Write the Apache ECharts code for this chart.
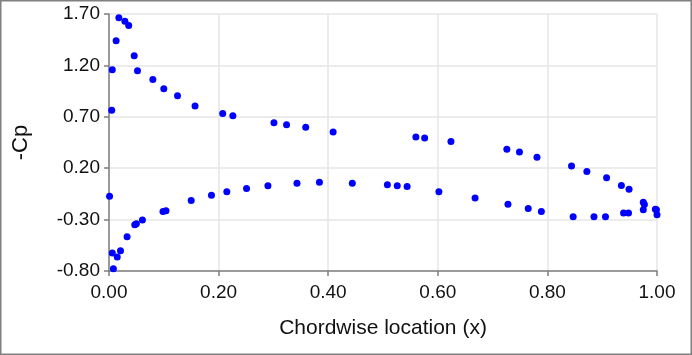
<!DOCTYPE html>
<html>
<head>
<meta charset="utf-8">
<script src="https://cdn.jsdelivr.net/npm/echarts@6/dist/echarts.min.js"></script>
<style>
html,body{margin:0;padding:0;background:#fff;}
#chart{width:692px;height:355px;}
</style>
</head>
<body>
<div id="chart"></div>
<script>
// Upper surface (suction side)
const upperX = [0.005,0.006,0.013,0.018,0.029,0.036,0.046,0.052,0.080,0.100,0.125,0.157,0.2075,0.226,0.301,0.324,0.359,0.409,0.560,0.576,0.624,0.726,0.749,0.781,0.844,0.872,0.908,0.935,0.949,0.975,0.977,0.997];
const upperCp = [0.763,1.157,1.44,1.663,1.63,1.587,1.294,1.147,1.062,0.974,0.905,0.805,0.733,0.71,0.641,0.622,0.599,0.553,0.504,0.494,0.459,0.384,0.358,0.306,0.221,0.169,0.107,0.032,-0.005,-0.132,-0.154,-0.20];
// Lower surface (pressure side)
const lowerX = [0.001,0.008,0.006,0.015,0.021,0.033,0.047,0.050,0.061,0.0985,0.104,0.150,0.187,0.215,0.251,0.290,0.343,0.384,0.444,0.508,0.526,0.544,0.602,0.668,0.728,0.765,0.789,0.847,0.885,0.906,0.939,0.948,0.975,1.000,0.999];
const lowerCp = [-0.073,-0.777,-0.624,-0.663,-0.604,-0.467,-0.35,-0.34,-0.304,-0.22,-0.213,-0.115,-0.063,-0.03,0.003,0.029,0.054,0.064,0.054,0.038,0.029,0.022,-0.030,-0.089,-0.151,-0.193,-0.22,-0.272,-0.272,-0.272,-0.236,-0.236,-0.203,-0.252,-0.205];

const xTicks = {min:0, max:1, interval:0.2};
const yTicks = {min:-0.8, max:1.7, interval:0.5};
const xName = 'Chordwise location (x)';
const yName = '-Cp';

const pts = [];
upperX.forEach((x,i)=>pts.push([x, upperCp[i]]));
lowerX.forEach((x,i)=>pts.push([x, lowerCp[i]]));

const chart = echarts.init(document.getElementById('chart'), null, {renderer:'canvas'});
const font = 'Liberation Sans, Arial, sans-serif';
chart.setOption({
  animation:false,
  backgroundColor:'#fff',
  graphic:[{type:'rect', shape:{x:0.75,y:0.75,width:690.5,height:353.5}, style:{fill:'none', stroke:'#808080', lineWidth:1.5}, silent:true}],
  grid:{left:109, right:35, top:14, bottom:84},
  xAxis:{
    type:'value', min:xTicks.min, max:xTicks.max, interval:xTicks.interval,
    name:xName, nameLocation:'middle', nameGap:47,
    nameTextStyle:{fontFamily:font, fontSize:21, color:'#111'},
    axisLine:{show:true, onZero:false, lineStyle:{color:'#7f7f7f', width:1.5}},
    axisTick:{show:true, length:5, lineStyle:{color:'#7f7f7f', width:1.5}},
    axisLabel:{fontFamily:font, fontSize:19, color:'#111', margin:12, formatter:v=>v.toFixed(2)},
    splitLine:{show:true, lineStyle:{color:'#e6e6e6', width:1.5}}
  },
  yAxis:{
    type:'value', min:yTicks.min, max:yTicks.max, interval:yTicks.interval,
    name:yName, nameLocation:'middle', nameGap:77,
    nameTextStyle:{fontFamily:font, fontSize:22, color:'#111'},
    axisLine:{show:true, onZero:false, lineStyle:{color:'#7f7f7f', width:1.5}},
    axisTick:{show:true, length:5, lineStyle:{color:'#7f7f7f', width:1.5}},
    axisLabel:{fontFamily:font, fontSize:19, color:'#111', margin:9, formatter:v=>v.toFixed(2)},
    splitLine:{show:true, lineStyle:{color:'#e6e6e6', width:1.5}}
  },
  series:[{
    type:'scatter', data:pts, symbol:'circle', symbolSize:7,
    itemStyle:{color:'#0000ff', opacity:1}
  }]
});
</script>
</body>
</html>
